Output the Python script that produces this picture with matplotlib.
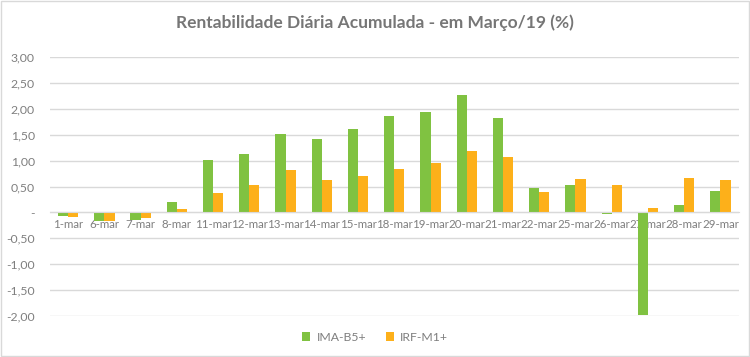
import numpy as np
import matplotlib
matplotlib.use("Agg")
import matplotlib.pyplot as plt
from matplotlib.ticker import FuncFormatter, MultipleLocator
from matplotlib.patches import Rectangle

plt.rcParams['font.family'] = ['Lato', 'DejaVu Sans']

# data
dias = ['1-mar', '6-mar', '7-mar', '8-mar', '11-mar', '12-mar', '13-mar', '14-mar',
        '15-mar', '18-mar', '19-mar', '20-mar', '21-mar', '22-mar', '25-mar', '26-mar',
        '27-mar', '28-mar', '29-mar']
ima_b5 = [-0.06, -0.16, -0.14, 0.20, 1.02, 1.13, 1.52, 1.42, 1.62, 1.86, 1.94, 2.27,
          1.83, 0.47, 0.52, -0.03, -1.99, 0.14, 0.41]
irf_m1 = [-0.08, -0.16, -0.10, 0.06, 0.37, 0.52, 0.81, 0.62, 0.70, 0.83, 0.95, 1.19,
          1.08, 0.39, 0.64, 0.52, 0.08, 0.66, 0.62]

verde = '#80c241'
laranja = '#fdb01a'
cinza_txt = '#7f7f7f'

fig = plt.figure(figsize=(7.5, 3.57), dpi=100)
ax = fig.add_axes([0.0667, 0.115, 0.918, 0.725])

x = np.arange(len(dias))
w = 0.28
ax.bar(x - w / 2, ima_b5, w, color=verde, label='IMA-B5+', zorder=3)
ax.bar(x + w / 2, irf_m1, w, color=laranja, label='IRF-M1+', zorder=3)

ax.set_xlim(-0.5, len(dias) - 0.5)
ax.set_ylim(-2.0, 3.0)
ax.yaxis.set_major_locator(MultipleLocator(0.5))


def fmt(v, pos):
    if abs(v) < 1e-9:
        return '-'
    return f'{v:.2f}'.replace('.', ',')


ax.yaxis.set_major_formatter(FuncFormatter(fmt))
ax.grid(axis='y', color='#d9d9d9', linewidth=1, zorder=0)
ax.set_axisbelow(True)

for s in ['top', 'right', 'left']:
    ax.spines[s].set_visible(False)
ax.spines['bottom'].set_position(('data', 0))
ax.spines['bottom'].set_color('#d9d9d9')
ax.spines['bottom'].set_zorder(4)

ax.set_xticks(x)
ax.set_xticklabels(dias)
ax.tick_params(axis='x', length=0, pad=5, labelsize=8.3, labelcolor=cinza_txt)
ax.tick_params(axis='y', length=0, pad=11, labelsize=8.8, labelcolor=cinza_txt)

fig.text(0.5, 0.935, 'Rentabilidade Diária Acumulada - em Março/19 (%)',
         ha='center', va='center', fontsize=12.5, fontweight='bold', color='#767676')

fig.legend(loc='center', bbox_to_anchor=(0.5, 0.055), ncol=2, frameon=False,
           fontsize=8.8, labelcolor=cinza_txt, handlelength=0.7, handleheight=0.7,
           columnspacing=1.6, handletextpad=0.5)

fig.patches.append(Rectangle((0.001, 0.002), 0.997, 0.995, transform=fig.transFigure,
                             fill=False, edgecolor='#d9d9d9', linewidth=1))

fig.savefig('out.png', dpi=100)
